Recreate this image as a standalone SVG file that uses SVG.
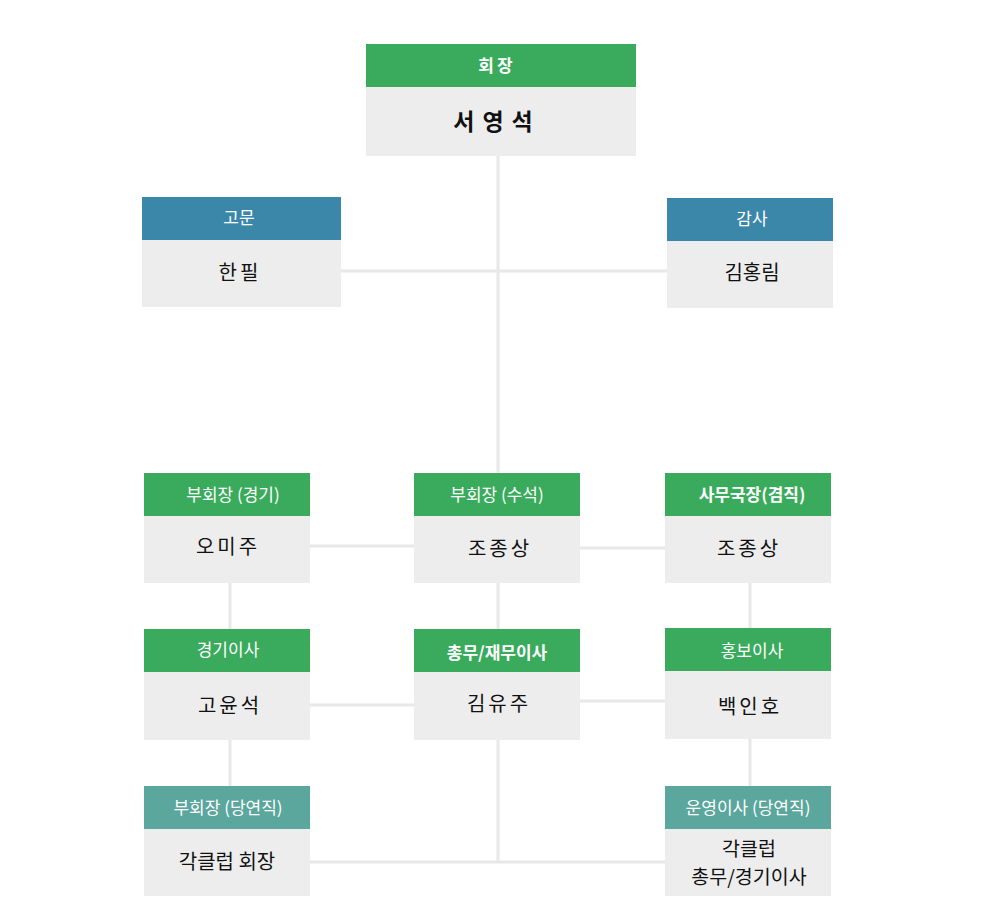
<svg xmlns="http://www.w3.org/2000/svg" width="983" height="898" viewBox="0 0 983 898">
<style>
.g{fill:#3aab5c}.b{fill:#3a87a9}.t{fill:#5ba69d}.body{fill:#ededed}
.h{font-family:"Noto Sans CJK KR","Noto Sans",sans-serif;font-size:17px;fill:#fff;text-anchor:middle}
.hb{font-weight:bold}
.n{font-family:"Noto Sans CJK KR","Noto Sans",sans-serif;font-size:20px;fill:#111;text-anchor:middle;letter-spacing:3px}
.ln{stroke:#e8e8e8;stroke-width:3;fill:none}
</style>
<rect width="983" height="898" fill="#fff"/>
<g id="connectors">
<line class="ln" x1="498" y1="156" x2="498" y2="862"/>
<line class="ln" x1="341" y1="271" x2="667" y2="271"/>
<line class="ln" x1="310" y1="546" x2="414" y2="546"/>
<line class="ln" x1="580" y1="548" x2="665" y2="548"/>
<line class="ln" x1="230" y1="583" x2="230" y2="629"/>
<line class="ln" x1="750" y1="583" x2="750" y2="628"/>
<line class="ln" x1="310" y1="705" x2="414" y2="705"/>
<line class="ln" x1="580" y1="701" x2="665" y2="701"/>
<line class="ln" x1="230" y1="740" x2="230" y2="786"/>
<line class="ln" x1="750" y1="739" x2="750" y2="786"/>
<line class="ln" x1="310" y1="862" x2="665" y2="862"/>
</g>
<g id="president">
<rect class="g" x="366" y="44" width="270" height="43"/>
<rect class="body" x="366" y="87" width="270" height="69"/>
<text class="h hb" x="497" y="72" style="letter-spacing:3px">회장</text>
<text class="n" x="497" y="130" style="font-weight:bold;font-size:23px;letter-spacing:8px">서영석</text>
</g>
<g id="advisor">
<rect class="b" x="142" y="197" width="199" height="43"/>
<rect class="body" x="142" y="240" width="199" height="67"/>
<text class="h" x="239" y="224">고문</text>
<text class="n" x="240" y="280">한필</text>
</g>
<g id="auditor">
<rect class="b" x="667" y="198" width="166" height="43"/>
<rect class="body" x="667" y="241" width="166" height="67"/>
<text class="h" x="752" y="225">감사</text>
<text class="n" x="752" y="280" style="letter-spacing:0">김홍림</text>
</g>
<g id="vp-game">
<rect class="g" x="144" y="473" width="166" height="43"/>
<rect class="body" x="144" y="516" width="166" height="67"/>
<text class="h" x="233" y="501">부회장 (경기)</text>
<text class="n" x="228" y="554">오미주</text>
</g>
<g id="vp-senior">
<rect class="g" x="414" y="473" width="166" height="43"/>
<rect class="body" x="414" y="516" width="166" height="67"/>
<text class="h" x="497" y="501">부회장 (수석)</text>
<text class="n" x="500" y="556">조종상</text>
</g>
<g id="secretary">
<rect class="g" x="665" y="473" width="166" height="43"/>
<rect class="body" x="665" y="516" width="166" height="67"/>
<text class="h hb" x="752" y="501">사무국장(겸직)</text>
<text class="n" x="749" y="556">조종상</text>
</g>
<g id="dir-game">
<rect class="g" x="144" y="629" width="166" height="43"/>
<rect class="body" x="144" y="672" width="166" height="68"/>
<text class="h" x="228" y="656">경기이사</text>
<text class="n" x="230" y="713">고윤석</text>
</g>
<g id="dir-finance">
<rect class="g" x="414" y="629" width="166" height="43"/>
<rect class="body" x="414" y="672" width="166" height="68"/>
<text class="h hb" x="497" y="659">총무/재무이사</text>
<text class="n" x="499" y="711">김유주</text>
</g>
<g id="dir-pr">
<rect class="g" x="665" y="628" width="166" height="43"/>
<rect class="body" x="665" y="671" width="166" height="68"/>
<text class="h" x="752" y="657">홍보이사</text>
<text class="n" x="750" y="714">백인호</text>
</g>
<g id="vp-exofficio">
<rect class="t" x="144" y="786" width="166" height="43"/>
<rect class="body" x="144" y="829" width="166" height="67"/>
<text class="h" x="228" y="814">부회장 (당연직)</text>
<text class="n" x="227" y="869" style="letter-spacing:0">각클럽 회장</text>
</g>
<g id="dir-ops">
<rect class="t" x="665" y="786" width="166" height="43"/>
<rect class="body" x="665" y="829" width="166" height="67"/>
<text class="h" x="748" y="814">운영이사 (당연직)</text>
<text class="n" x="749" y="856" style="letter-spacing:0;font-size:19.5px">각클럽</text>
<text class="n" x="749" y="884" style="letter-spacing:0;font-size:19.5px">총무/경기이사</text>
</g>
</svg>
